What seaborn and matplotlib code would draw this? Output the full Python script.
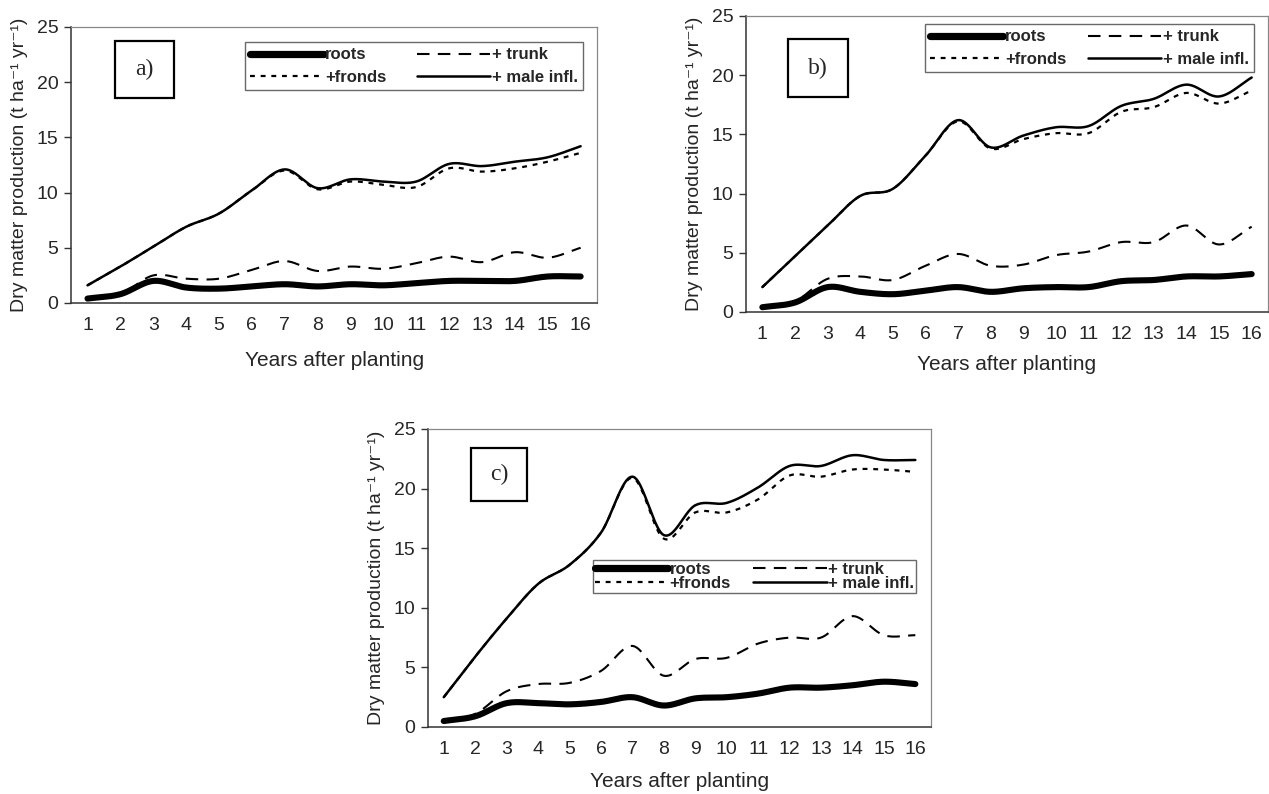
import numpy as np
import pandas as pd
import matplotlib
matplotlib.use("Agg")
import matplotlib.pyplot as plt
from matplotlib.patches import Rectangle
from matplotlib.lines import Line2D
import seaborn as sns

# years after planting (category labels)
years = [str(i) for i in range(1, 17)]

# panel a)
roots_a = [0.4, 0.8, 2.0, 1.4, 1.3, 1.5, 1.7, 1.5, 1.7, 1.6, 1.8, 2.0, 2.0, 2.0, 2.4, 2.4]
trunk_a = [0.4, 0.8, 2.5, 2.2, 2.2, 3.0, 3.8, 2.9, 3.3, 3.1, 3.6, 4.2, 3.7, 4.6, 4.1, 5.0]
fronds_a = [1.6, 3.3, 5.1, 6.9, 8.1, 10.2, 12.0, 10.3, 11.0, 10.7, 10.5, 12.2, 11.9, 12.2, 12.8, 13.6]
male_a = [1.6, 3.3, 5.1, 6.9, 8.1, 10.2, 12.1, 10.4, 11.2, 11.0, 11.0, 12.6, 12.4, 12.8, 13.2, 14.2]

# panel b)
roots_b = [0.4, 0.8, 2.1, 1.7, 1.5, 1.8, 2.1, 1.7, 2.0, 2.1, 2.1, 2.6, 2.7, 3.0, 3.0, 3.2]
trunk_b = [0.4, 0.9, 2.8, 3.0, 2.7, 3.9, 4.9, 3.9, 4.0, 4.8, 5.1, 5.9, 5.9, 7.3, 5.7, 7.2]
fronds_b = [2.1, 4.7, 7.3, 9.8, 10.4, 13.2, 16.1, 13.8, 14.6, 15.1, 15.1, 16.9, 17.3, 18.5, 17.6, 18.7]
male_b = [2.1, 4.7, 7.3, 9.8, 10.4, 13.2, 16.2, 13.9, 14.9, 15.6, 15.7, 17.4, 18.0, 19.2, 18.2, 19.8]

# panel c)
roots_c = [0.5, 0.9, 2.0, 2.0, 1.9, 2.1, 2.5, 1.8, 2.4, 2.5, 2.8, 3.3, 3.3, 3.5, 3.8, 3.6]
trunk_c = [0.5, 1.1, 3.0, 3.6, 3.7, 4.7, 6.8, 4.3, 5.7, 5.8, 7.0, 7.5, 7.5, 9.3, 7.7, 7.7]
fronds_c = [2.5, 5.9, 9.1, 12.0, 13.6, 16.3, 20.9, 15.8, 18.0, 18.0, 19.1, 21.1, 21.0, 21.6, 21.6, 21.4]
male_c = [2.5, 5.9, 9.1, 12.0, 13.6, 16.3, 21.0, 16.1, 18.6, 18.8, 20.1, 21.9, 21.9, 22.8, 22.4, 22.4]

series_names = ["roots", "+ trunk", "+fronds", "+ male infl."]
styles = {
    "roots": dict(lw=4.4, ls="-"),
    "+ trunk": dict(lw=1.5, ls=(0, (6, 4))),
    "+fronds": dict(lw=1.6, ls=(0, (2.2, 2.6))),
    "+ male infl.": dict(lw=1.8, ls="-"),
}


def smooth(vals, n=24):
    # Excel-like smoothed line (Catmull-Rom through the points)
    p = np.asarray(vals, float)
    pts = np.concatenate([[2 * p[0] - p[1]], p, [2 * p[-1] - p[-2]]])
    xs, ys = [], []
    t = np.linspace(0, 1, n, endpoint=False)
    for i in range(len(p) - 1):
        p0, p1, p2, p3 = pts[i:i + 4]
        ys.append(0.5 * (2 * p1 + (-p0 + p2) * t + (2 * p0 - 5 * p1 + 4 * p2 - p3) * t ** 2
                         + (-p0 + 3 * p1 - 3 * p2 + p3) * t ** 3))
        xs.append(i + t)
    xs.append([len(p) - 1])
    ys.append([p[-1]])
    return np.concatenate(xs), np.concatenate(ys)


sns.set_style("white")
plt.rcParams['font.family'] = ['Liberation Sans', 'DejaVu Sans']

fig = plt.figure(figsize=(12.69, 7.94), dpi=100)

panels = [
    dict(tag="a)", data=[roots_a, trunk_a, fronds_a, male_a],
         rect=[0.0560, 0.6184, 0.4145, 0.3476], labelpad_x=12,
         box=(0.084, 0.743, 0.112, 0.206),
         leg=(0.331, 0.772, 0.642, 0.174), leg_sp=0.45, leg_bp=0.3),
    dict(tag="b)", data=[roots_b, trunk_b, fronds_b, male_b],
         rect=[0.5879, 0.6071, 0.4113, 0.3728], labelpad_x=9,
         box=(0.080, 0.726, 0.115, 0.196),
         leg=(0.343, 0.811, 0.630, 0.165), leg_sp=0.45, leg_bp=0.3),
    dict(tag="c)", data=[roots_c, trunk_c, fronds_c, male_c],
         rect=[0.3373, 0.0844, 0.3964, 0.3753], labelpad_x=10,
         box=(0.0855, 0.760, 0.111, 0.177),
         leg=(0.328, 0.450, 0.642, 0.090), leg_sp=-0.05, leg_bp=0.1),
]

for pan in panels:
    ax = fig.add_axes(pan["rect"])
    for name, vals in zip(series_names, pan["data"]):
        xs, ys = smooth(vals)
        df = pd.DataFrame({"x": xs, "y": ys})
        sns.lineplot(data=df, x="x", y="y", ax=ax, color="black", sort=False,
                     estimator=None, linewidth=styles[name]["lw"],
                     linestyle=styles[name]["ls"], solid_capstyle="round")

    ax.set_xlim(-0.5, len(years) - 0.5)
    ax.set_ylim(0, 25)
    ax.set_yticks([0, 5, 10, 15, 20, 25])
    ax.set_xticks(range(len(years)))
    ax.set_xticklabels(years)
    ax.set_xticks(np.arange(-0.5, len(years), 1.0), minor=True)
    ax.tick_params(axis="x", which="major", length=0, pad=10, labelsize=14)
    ax.tick_params(axis="x", which="minor", length=6, width=1, direction="inout", color="#333333")
    ax.tick_params(axis="y", which="major", length=5, width=1, direction="out", left=True,
                   pad=4, labelsize=14, color="#333333")
    for side in ["left", "bottom"]:
        ax.spines[side].set_color("#333333")
        ax.spines[side].set_linewidth(1.1)
    for side in ["top", "right"]:
        ax.spines[side].set_color("#888888")
        ax.spines[side].set_linewidth(0.9)

    ax.set_xlabel("Years after planting", fontsize=15, labelpad=pan["labelpad_x"])
    ax.set_ylabel("Dry matter production (t ha\u207b\u00b9 yr\u207b\u00b9)", fontsize=14, labelpad=6)

    bx, by, bw, bh = pan["box"]
    ax.add_patch(Rectangle((bx, by), bw, bh, transform=ax.transAxes, fill=False,
                           edgecolor="black", linewidth=1.6, zorder=5))
    ax.text(bx + bw / 2, by + bh / 2, pan["tag"], transform=ax.transAxes,
            ha="center", va="center", fontsize=17, family="Liberation Serif", zorder=6)

    handles = [Line2D([], [], color="black", lw=styles[n]["lw"] + (0.8 if n == "roots" else 0),
                      ls=styles[n]["ls"], solid_capstyle="round")
               for n in series_names]
    order = [0, 2, 1, 3]
    leg = ax.legend([handles[i] for i in order], [series_names[i] for i in order],
                    ncol=2, loc="lower left", bbox_to_anchor=pan["leg"], mode="expand",
                    prop=dict(size=12, weight="bold", stretch="condensed"),
                    frameon=True, fancybox=False, handlelength=4.4,
                    handletextpad=0.1, columnspacing=1.0, labelspacing=pan["leg_sp"],
                    borderpad=pan["leg_bp"], borderaxespad=0)
    leg.get_frame().set_edgecolor("#444444")
    leg.get_frame().set_linewidth(1.0)

fig.savefig("out.png", dpi=100)
